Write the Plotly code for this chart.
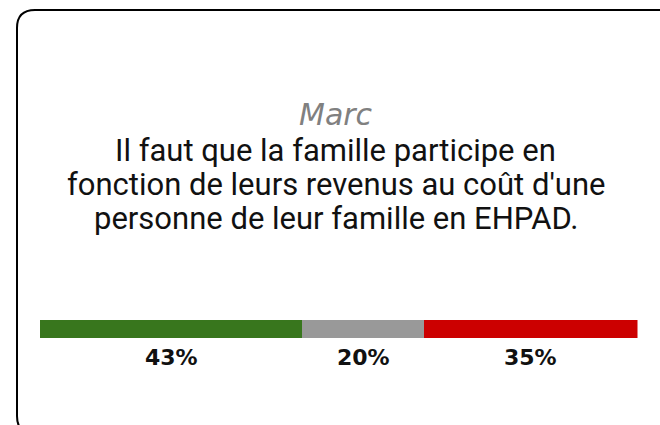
import plotly.graph_objects as go

title_name = "Marc"
quote_lines = ["Il faut que la famille participe en",
               "fonction de leurs revenus au coût d'une",
               "personne de leur famille en EHPAD."]
segments = ["Pour", "Neutre", "Contre"]
values = [43, 20, 35]
colors = ["#38761d", "#999999", "#cc0000"]

W, H = 660, 425
fig = go.Figure()
for name, v, c in zip(segments, values, colors):
    fig.add_trace(go.Bar(y=[0], x=[v], orientation="h", name=name,
                         marker=dict(color=c, line=dict(width=0)), width=1,
                         hoverinfo="skip"))

total = sum(values)
cum = 0
annotations = []
for v in values:
    center = cum + v / 2
    cum += v
    annotations.append(dict(x=center, xref="x", y=1 - 357 / H, yref="paper",
                            text=f"<b>{v}%</b>", showarrow=False,
                            font=dict(family="DejaVu Sans", size=22, color="#111111"),
                            xanchor="center", yanchor="middle"))

annotations.append(dict(x=336 / W, y=1 - 114 / H, xref="paper", yref="paper",
                        text=f"<i>{title_name}</i>", showarrow=False,
                        font=dict(family="DejaVu Sans", size=30, color="#808080"),
                        xanchor="center", yanchor="middle"))
for i, line in enumerate(quote_lines):
    annotations.append(dict(x=336 / W, y=1 - (150.5 + i * 34) / H, xref="paper", yref="paper",
                            text=line, showarrow=False,
                            font=dict(family="Roboto", size=31, color="#111111"),
                            xanchor="center", yanchor="middle"))

# rounded card border
x0, y0, x1, y1, r = 17, 10, 680, 434, 18
def px(x): return x / W
def py(y): return 1 - y / H
path = (f"M {px(x0)},{py(y0 + r)} "
        f"Q {px(x0)},{py(y0)} {px(x0 + r)},{py(y0)} "
        f"L {px(x1 - r)},{py(y0)} "
        f"Q {px(x1)},{py(y0)} {px(x1)},{py(y0 + r)} "
        f"L {px(x1)},{py(y1 - r)} "
        f"Q {px(x1)},{py(y1)} {px(x1 - r)},{py(y1)} "
        f"L {px(x0 + r)},{py(y1)} "
        f"Q {px(x0)},{py(y1)} {px(x0)},{py(y1 - r)} Z")

fig.update_layout(
    width=W, height=H, margin=dict(l=0, r=0, t=0, b=0),
    paper_bgcolor="white", plot_bgcolor="white",
    barmode="stack", showlegend=False,
    xaxis=dict(range=[0, total], domain=[40 / W, 637.5 / W], visible=False, fixedrange=True),
    yaxis=dict(range=[-0.5, 0.5], domain=[1 - 338 / H, 1 - 320 / H], visible=False, fixedrange=True),
    annotations=annotations,
    shapes=[dict(type="path", path=path, xref="paper", yref="paper",
                 line=dict(color="black", width=2), fillcolor="rgba(0,0,0,0)")],
)
fig.write_html("out.html", config={"displayModeBar": False},
               post_script="document.body.style.margin='0';document.body.style.overflow='hidden';")
